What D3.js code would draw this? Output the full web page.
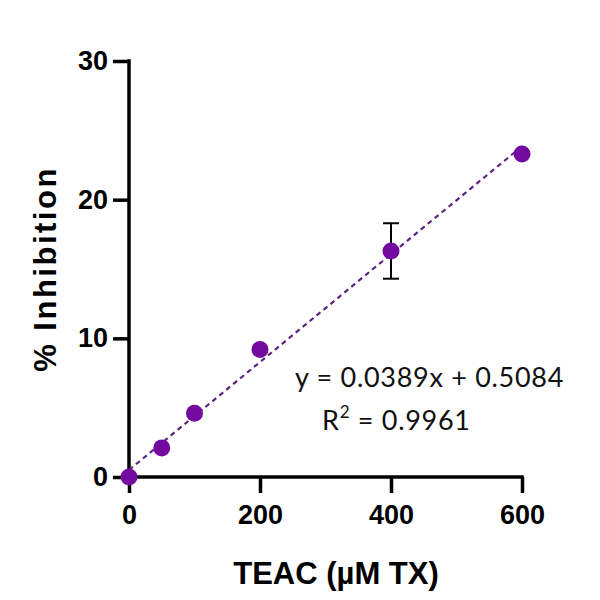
<!DOCTYPE html>
<html>
<head>
<meta charset="utf-8">
<script src="https://cdn.jsdelivr.net/npm/d3@7"></script>
<style>
  body { margin: 0; background: #fff; }
  svg { display: block; }
</style>
</head>
<body>
<div id="chart"></div>
<script>
// --- Data ---
const concentrations = [0, 50, 100, 200, 400, 600];
const inhibition = [0, 2.1, 4.6, 9.2, 16.3, 23.3];
const errors = [0, 0, 0, 0, 2.0, 0];
const xTicks = [0, 200, 400, 600];
const yTicks = [0, 10, 20, 30];
const fitSlope = 0.0389;
const fitIntercept = 0.5084;
const fitLabel = 'y = 0.0389x + 0.5084';
const r2Label = '0.9961';

const width = 600, height = 600;

const svg = d3.select('#chart').append('svg')
  .attr('width', width)
  .attr('height', height);

const x = d3.scaleLinear().domain([0, 600]).range([129, 522]);
const y = d3.scaleLinear().domain([0, 30]).range([477, 61]);

const boldFont = '"Liberation Sans", Arial, sans-serif';

// --- Axes ---
const xAxis = svg.append('g')
  .attr('transform', `translate(0,${y(0)})`)
  .call(d3.axisBottom(x).tickValues(xTicks).tickSize(16).tickSizeOuter(0).tickPadding(7));

const yAxis = svg.append('g')
  .attr('transform', `translate(${x(0)},0)`)
  .call(d3.axisLeft(y).tickValues(yTicks).tickSize(16).tickSizeOuter(0).tickPadding(5));

[xAxis, yAxis].forEach(a => {
  a.select('.domain').attr('stroke', '#000').attr('stroke-width', 3.5);
  a.selectAll('.tick line').attr('stroke', '#000').attr('stroke-width', 3.5);
  a.selectAll('.tick text')
    .attr('fill', '#000')
    .style('font-family', boldFont)
    .style('font-weight', 'bold')
    .style('font-size', '27px');
});
xAxis.selectAll('.tick text').attr('dy', '0.9em');
// extend the domain lines so the end ticks join cleanly
xAxis.select('.domain').attr('d', `M${x(0) - 1.75},0H${x(600) + 1.75}`);
yAxis.select('.domain').attr('d', `M0,${y(0) + 1.75}V${y(30) - 1.75}`);

// --- Fit line ---
svg.append('line')
  .attr('x1', x(0))
  .attr('y1', y(fitIntercept))
  .attr('x2', x(600))
  .attr('y2', y(fitSlope * 600 + fitIntercept))
  .attr('stroke', '#5a2583')
  .attr('stroke-width', 2.2)
  .attr('stroke-dasharray', '5,4');

// --- Error bars ---
const pts = concentrations.map((c, i) => ({ c, v: inhibition[i], e: errors[i] }));
const eb = svg.append('g').selectAll('g')
  .data(pts.filter(d => d.e > 0))
  .join('g')
  .attr('stroke', '#000')
  .attr('stroke-width', 2);
eb.append('line')
  .attr('x1', d => x(d.c)).attr('x2', d => x(d.c))
  .attr('y1', d => y(d.v - d.e)).attr('y2', d => y(d.v + d.e));
eb.append('line')
  .attr('x1', d => x(d.c) - 8).attr('x2', d => x(d.c) + 8)
  .attr('y1', d => y(d.v + d.e)).attr('y2', d => y(d.v + d.e));
eb.append('line')
  .attr('x1', d => x(d.c) - 8).attr('x2', d => x(d.c) + 8)
  .attr('y1', d => y(d.v - d.e)).attr('y2', d => y(d.v - d.e));

// --- Points ---
svg.append('g').selectAll('circle')
  .data(pts)
  .join('circle')
  .attr('cx', d => x(d.c))
  .attr('cy', d => y(d.v))
  .attr('r', 8.5)
  .attr('fill', '#73099f');

// --- Axis titles ---
svg.append('text')
  .attr('x', 336)
  .attr('y', 584)
  .attr('text-anchor', 'middle')
  .style('font-family', boldFont)
  .style('font-weight', 'bold')
  .style('font-size', '31px')
  .text('TEAC (µM TX)');

svg.append('text')
  .attr('transform', 'translate(56,269) rotate(-90)')
  .attr('text-anchor', 'middle')
  .style('font-family', boldFont)
  .style('font-weight', 'bold')
  .style('font-size', '31px')
  .style('letter-spacing', '2.5px')
  .text('% Inhibition');

// --- Equation ---
const eqFont = 'Lato, "Open Sans", sans-serif';
svg.append('text')
  .attr('x', 295)
  .attr('y', 387)
  .style('font-family', eqFont)
  .style('font-size', '27px')
  .style('letter-spacing', '0.7px')
  .attr('fill', '#111')
  .text(fitLabel);

const r2 = svg.append('text')
  .attr('x', 322)
  .attr('y', 430)
  .style('font-family', eqFont)
  .style('font-size', '27px')
  .style('letter-spacing', '0.7px')
  .attr('fill', '#111');
r2.append('tspan').text('R');
r2.append('tspan').attr('dy', -12).style('font-size', '17px').text('2');
r2.append('tspan').attr('dy', 12).text(' = ' + r2Label);
</script>
</body>
</html>
